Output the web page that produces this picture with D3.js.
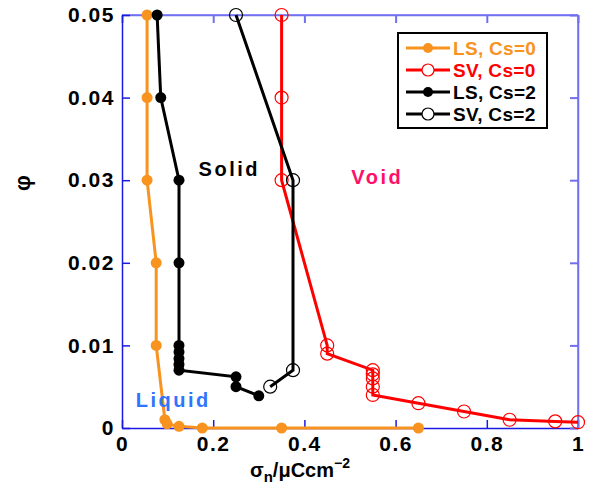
<!DOCTYPE html>
<html><head><meta charset="utf-8">
<script src="https://cdn.jsdelivr.net/npm/d3@7"></script>
<style>body{margin:0;background:#fff}svg{display:block}</style>
</head><body>
<svg id="c" width="592" height="500"></svg>
<script>
const xTicks = [0, 0.2, 0.4, 0.6, 0.8, 1];
const xTickLabels = ["0", "0.2", "0.4", "0.6", "0.8", "1"];
const yTicks = [0, 0.01, 0.02, 0.03, 0.04, 0.05];
const yTickLabels = ["0", "0.01", "0.02", "0.03", "0.04", "0.05"];

const lsCs0X = [0.055, 0.055, 0.055, 0.075, 0.075, 0.094, 0.099, 0.125, 0.176, 0.35, 0.65];
const lsCs0Y = [0.05, 0.04, 0.03, 0.02, 0.01, 0.001, 0.0005, 0.0002, 0, 0, 0];
const svCs0X = [0.35, 0.35, 0.35, 0.45, 0.45, 0.55, 0.55, 0.55, 0.55, 0.55, 0.65, 0.75, 0.85, 0.95, 1.0];
const svCs0Y = [0.05, 0.04, 0.03, 0.01, 0.009, 0.007, 0.0065, 0.006, 0.005, 0.004, 0.003, 0.002, 0.001, 0.0008, 0.0007];
const lsCs2X = [0.077, 0.085, 0.125, 0.125, 0.125, 0.125, 0.125, 0.125, 0.125, 0.25, 0.25, 0.30];
const lsCs2Y = [0.05, 0.04, 0.03, 0.02, 0.01, 0.0092, 0.0084, 0.0077, 0.007, 0.0062, 0.005, 0.0039];
const svCs2X = [0.25, 0.375, 0.375, 0.325];
const svCs2Y = [0.05, 0.03, 0.007, 0.005];

const seriesNames = ["LS, Cs=0", "SV, Cs=0", "LS, Cs=2", "SV, Cs=2"];
const regionLabels = ["Solid", "Void", "Liquid"];
const regionX = [0.168, 0.503, 0.03];
const regionY = [0.0305, 0.0295, 0.0025];

const W = 592, H = 500;
const m = {l: 122, r: 14, t: 15, b: 72};
const svg = d3.select("#c");
const x = d3.scaleLinear().domain([0, 1]).range([m.l, W - m.r]);
const y = d3.scaleLinear().domain([0, 0.05]).range([H - m.b, m.t]);
const font = "'Liberation Sans', Arial, sans-serif";

const series = [
  {name: seriesNames[0], xs: lsCs0X, ys: lsCs0Y, color: "#f7931e", filled: true},
  {name: seriesNames[1], xs: svCs0X, ys: svCs0Y, color: "#ff0000", filled: false},
  {name: seriesNames[2], xs: lsCs2X, ys: lsCs2Y, color: "#000000", filled: true},
  {name: seriesNames[3], xs: svCs2X, ys: svCs2Y, color: "#000000", filled: false}
];

// frame
const dark = "#1a1ae0", light = "#7070f0";
svg.append("line").attr("x1", x(0)).attr("x2", x(1)).attr("y1", y(0.05)).attr("y2", y(0.05)).attr("stroke", light).attr("stroke-width", 1.5);
svg.append("line").attr("x1", x(1)).attr("x2", x(1)).attr("y1", y(0)).attr("y2", y(0.05)).attr("stroke", light).attr("stroke-width", 1.5);

// axes with inward ticks
const gx = svg.append("g").attr("transform", `translate(0,${y(0)})`)
  .call(d3.axisBottom(x).tickValues(xTicks).tickSizeInner(-8).tickSizeOuter(0).tickFormat((d, i) => xTickLabels[i]));
const gxt = svg.append("g").attr("transform", `translate(0,${y(0.05)})`)
  .call(d3.axisTop(x).tickValues(xTicks).tickSizeInner(-8).tickSizeOuter(0).tickFormat(""));
const gy = svg.append("g").attr("transform", `translate(${x(0)},0)`)
  .call(d3.axisLeft(y).tickValues(yTicks).tickSizeInner(-8).tickSizeOuter(0).tickFormat((d, i) => yTickLabels[i]));
const gyr = svg.append("g").attr("transform", `translate(${x(1)},0)`)
  .call(d3.axisRight(y).tickValues(yTicks).tickSizeInner(-8).tickSizeOuter(0).tickFormat(""));
[gx, gy].forEach(g => { g.select(".domain").attr("stroke", dark).attr("stroke-width", 1.5); g.selectAll(".tick line").attr("stroke", dark).attr("stroke-width", 1.5); });
[gxt, gyr].forEach(g => { g.select(".domain").attr("stroke", light).attr("stroke-width", 1.5); g.selectAll(".tick line").attr("stroke", light).attr("stroke-width", 2); });
[gx, gy].forEach(g => g.selectAll("text").attr("font-family", font).attr("font-weight", "bold").attr("font-size", 21).attr("fill", "#000").attr("letter-spacing", 1.5));
gx.selectAll("text").attr("dy", "0.95em");
gy.selectAll("text").attr("dx", "-0.2em");

// lines and markers
const line = d3.line().x(d => x(d[0])).y(d => y(d[1]));
series.forEach(s => {
  const pts = s.xs.map((v, i) => [v, s.ys[i]]);
  svg.append("path").datum(pts).attr("d", line).attr("fill", "none").attr("stroke", s.color).attr("stroke-width", 3).attr("stroke-linejoin", "miter");
  svg.append("g").selectAll("circle").data(pts).join("circle")
    .attr("cx", d => x(d[0])).attr("cy", d => y(d[1]))
    .attr("r", s.filled ? 5.5 : 6.5)
    .attr("fill", s.filled ? s.color : "none")
    .attr("stroke", s.color).attr("stroke-width", s.filled ? 0 : 1.2);
});

// region labels
const regionColors = ["#000000", "#ff0f6a", "#2f74ff"];
regionLabels.forEach((t, i) => {
  svg.append("text").attr("x", x(regionX[i])).attr("y", y(regionY[i]))
    .attr("font-family", font).attr("font-weight", "bold").attr("font-size", 20)
    .attr("letter-spacing", 2.5).attr("fill", regionColors[i]).text(t);
});

// legend
const lg = svg.append("g").attr("transform", "translate(398,33)");
lg.append("rect").attr("width", 149).attr("height", 95).attr("fill", "#fff").attr("stroke", "#000").attr("stroke-width", 2);
series.forEach((s, i) => {
  const yy = 15 + i * 22;
  lg.append("line").attr("x1", 8).attr("x2", 52).attr("y1", yy).attr("y2", yy).attr("stroke", s.color).attr("stroke-width", 3);
  lg.append("circle").attr("cx", 30).attr("cy", yy).attr("r", s.filled ? 5 : 6)
    .attr("fill", s.filled ? s.color : "#fff").attr("stroke", s.color).attr("stroke-width", s.filled ? 0 : 1.2);
  lg.append("text").attr("x", 55).attr("y", yy + 7).attr("font-family", font).attr("font-weight", "bold")
    .attr("font-size", 19).attr("letter-spacing", 0.3).attr("fill", s.color).text(s.name);
});

// axis titles
const xl = svg.append("text").attr("x", 300).attr("y", 477).attr("text-anchor", "middle")
  .attr("font-family", font).attr("font-weight", "bold").attr("font-size", 20).attr("fill", "#000");
xl.append("tspan").text("σ");
xl.append("tspan").attr("font-size", 15).attr("dy", 5).text("n");
xl.append("tspan").attr("dy", -5).text("/μCcm");
xl.append("tspan").attr("font-size", 14).attr("dy", -9).text("−2");

svg.append("text").attr("transform", "translate(30,183) rotate(-90)").attr("text-anchor", "middle")
  .attr("font-family", font).attr("font-weight", "bold").attr("font-size", 22).attr("fill", "#000").text("φ");
</script>
</body></html>
